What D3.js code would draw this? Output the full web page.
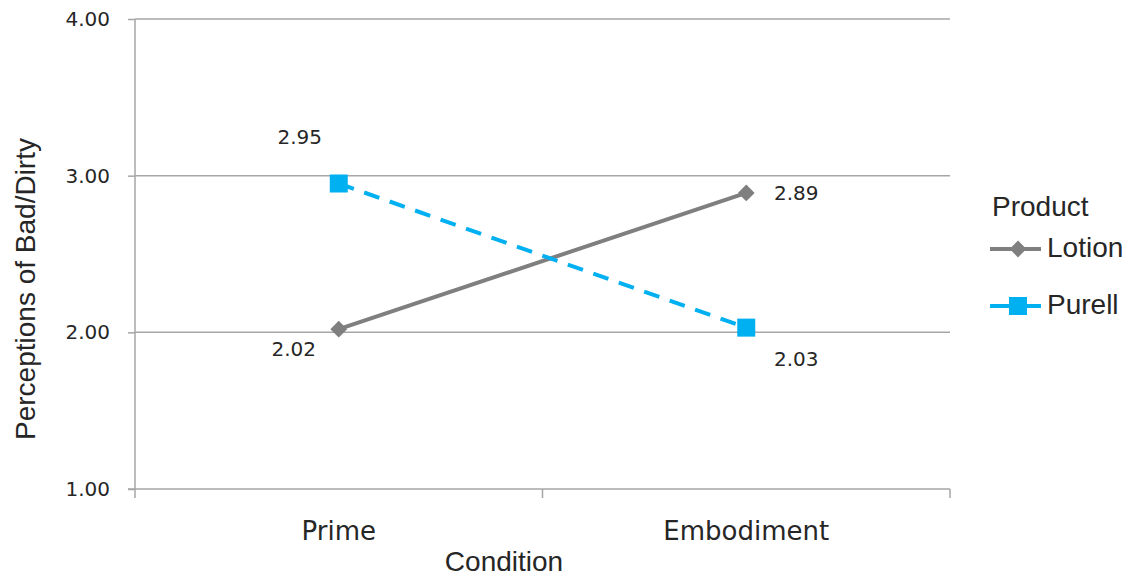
<!DOCTYPE html>
<html>
<head>
<meta charset="utf-8">
<script src="https://cdn.jsdelivr.net/npm/d3@7"></script>
<style>
  body { margin: 0; background: #fff; }
  text { fill: #262626; }
</style>
</head>
<body>
<div class="chart"></div>
<script>
var conditions = ["Prime", "Embodiment"];
var lotionValues = [2.02, 2.89];
var purellValues = [2.95, 2.03];
var yTicks = [1, 2, 3, 4];
var seriesNames = ["Lotion", "Purell"];

var svgWidth = 1134;
var svgHeight = 577;

var margin = { top: 19, right: 184, bottom: 88, left: 135 };
var width = svgWidth - margin.left - margin.right;
var height = svgHeight - margin.top - margin.bottom;

var svg = d3.select(".chart")
  .append("svg")
  .attr("width", svgWidth)
  .attr("height", svgHeight);

var chartGroup = svg.append("g")
  .attr("transform", `translate(${margin.left}, ${margin.top})`);

// scales
var xScale = d3.scaleBand()
  .domain(conditions)
  .range([0, width]);

var yScale = d3.scaleLinear()
  .domain([1, 4])
  .range([height, 0]);

var gridColor = "#a6a6a6";
var labelFont = "'DejaVu Sans', sans-serif";
var titleFont = "'Liberation Sans', Arial, sans-serif";

// gridlines
chartGroup.append("g")
  .selectAll("line")
  .data(yTicks.slice(1))
  .enter()
  .append("line")
  .attr("x1", 0)
  .attr("x2", width)
  .attr("y1", d => yScale(d))
  .attr("y2", d => yScale(d))
  .attr("stroke", gridColor)
  .attr("stroke-width", 1.5);

// left axis
var leftAxis = d3.axisLeft(yScale)
  .tickValues(yTicks)
  .tickFormat(d3.format(".2f"))
  .tickSize(7)
  .tickPadding(18);

var yAxisG = chartGroup.append("g").call(leftAxis);
yAxisG.select(".domain").attr("stroke", gridColor).attr("stroke-width", 1.5)
  .attr("d", `M0,0V${height}`);
yAxisG.selectAll(".tick line").attr("stroke", gridColor).attr("stroke-width", 1.5);
yAxisG.selectAll(".tick text")
  .style("font-family", labelFont)
  .style("font-size", "20px")
  .attr("fill", "#262626");

// bottom axis
var bottomAxis = d3.axisBottom(xScale).tickSize(0);
var xAxisG = chartGroup.append("g")
  .attr("transform", `translate(0, ${height})`)
  .call(bottomAxis);
xAxisG.select(".domain").attr("stroke", gridColor).attr("stroke-width", 1.5)
  .attr("d", `M-7,0H${width}`);
xAxisG.selectAll(".tick text")
  .attr("y", 42)
  .attr("dy", "0.35em")
  .style("font-family", labelFont)
  .style("font-size", "26px")
  .attr("fill", "#262626");

// category boundary ticks
var boundaries = [0].concat(conditions.map(c => xScale(c) + xScale.bandwidth()));
xAxisG.selectAll(".bound")
  .data(boundaries)
  .enter()
  .append("line")
  .attr("x1", d => d)
  .attr("x2", d => d)
  .attr("y1", 0)
  .attr("y2", 9)
  .attr("stroke", gridColor)
  .attr("stroke-width", 1.5);

var cx = c => xScale(c) + xScale.bandwidth() / 2;

var lotionColor = "#7f7f7f";
var purellColor = "#00b0f0";

var line = d3.line()
  .x(d => cx(d.cond))
  .y(d => yScale(d.v));

var lotionData = conditions.map((c, i) => ({ cond: c, v: lotionValues[i] }));
var purellData = conditions.map((c, i) => ({ cond: c, v: purellValues[i] }));

chartGroup.append("path")
  .datum(lotionData)
  .attr("d", line)
  .attr("fill", "none")
  .attr("stroke", lotionColor)
  .attr("stroke-width", 4);

chartGroup.append("path")
  .datum(purellData)
  .attr("d", line)
  .attr("fill", "none")
  .attr("stroke", purellColor)
  .attr("stroke-width", 4)
  .attr("stroke-dasharray", "16,11");

var diamond = d3.symbol().type(d3.symbolDiamond2).size(180);
chartGroup.selectAll(".lotionPt")
  .data(lotionData)
  .enter()
  .append("path")
  .attr("d", diamond)
  .attr("transform", d => `translate(${cx(d.cond)}, ${yScale(d.v)})`)
  .attr("fill", lotionColor);

chartGroup.selectAll(".purellPt")
  .data(purellData)
  .enter()
  .append("rect")
  .attr("x", d => cx(d.cond) - 9)
  .attr("y", d => yScale(d.v) - 9)
  .attr("width", 18)
  .attr("height", 18)
  .attr("fill", purellColor);

// data labels
var labelOffsets = {
  Lotion: [[-45, 21], [50, 2]],
  Purell: [[-39, -45], [50, 33]]
};
function addLabels(data, name) {
  chartGroup.selectAll(".lbl" + name)
    .data(data)
    .enter()
    .append("text")
    .attr("x", (d, i) => cx(d.cond) + labelOffsets[name][i][0])
    .attr("y", (d, i) => yScale(d.v) + labelOffsets[name][i][1])
    .attr("text-anchor", "middle")
    .attr("dominant-baseline", "middle")
    .style("font-family", labelFont)
    .style("font-size", "20px")
    .text(d => d3.format(".2f")(d.v));
}
addLabels(lotionData, "Lotion");
addLabels(purellData, "Purell");

// axis titles
chartGroup.append("text")
  .attr("transform", "rotate(-90)")
  .attr("x", 0 - 270)
  .attr("y", 0 - margin.left + 28)
  .attr("text-anchor", "middle")
  .attr("dominant-baseline", "middle")
  .style("font-family", titleFont)
  .style("font-size", "28px")
  .text("Perceptions of Bad/Dirty");

chartGroup.append("text")
  .attr("x", 504 - margin.left)
  .attr("y", height + 75)
  .attr("text-anchor", "middle")
  .attr("dominant-baseline", "middle")
  .style("font-family", titleFont)
  .style("font-size", "28px")
  .text("Condition");

// legend
var legend = svg.append("g").attr("transform", "translate(990, 0)");
legend.append("text")
  .attr("x", 2)
  .attr("y", 209)
  .attr("dominant-baseline", "middle")
  .style("font-family", titleFont)
  .style("font-size", "28px")
  .text("Product");

var legendRows = [
  { name: seriesNames[0], y: 249, color: lotionColor },
  { name: seriesNames[1], y: 306, color: purellColor }
];
legendRows.forEach(function(r, i) {
  legend.append("line")
    .attr("x1", 0).attr("x2", 51)
    .attr("y1", r.y).attr("y2", r.y)
    .attr("stroke", r.color)
    .attr("stroke-width", 4);
  if (i === 0) {
    legend.append("path")
      .attr("d", diamond)
      .attr("transform", `translate(28, ${r.y})`)
      .attr("fill", r.color);
  } else {
    legend.append("rect")
      .attr("x", 19).attr("y", r.y - 9)
      .attr("width", 18).attr("height", 18)
      .attr("fill", r.color);
  }
  legend.append("text")
    .attr("x", 57)
    .attr("y", r.y + 1)
    .attr("dominant-baseline", "middle")
    .style("font-family", titleFont)
    .style("font-size", "28px")
    .text(r.name);
});
</script>
</body>
</html>
